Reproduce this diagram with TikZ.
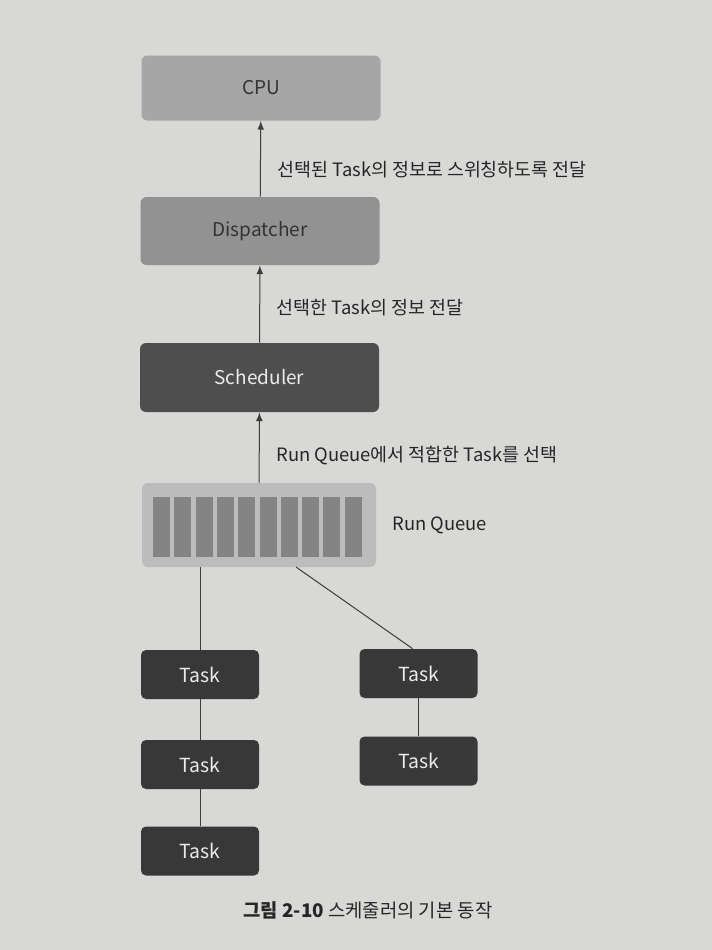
\documentclass[tikz,border=0pt]{standalone}
\usepackage{fontspec}
\setmainfont{Noto Sans CJK KR}
\usepackage{tikz}
\usetikzlibrary{arrows}

\definecolor{paper}{RGB}{216,216,214}
\definecolor{cpugray}{RGB}{166,166,166}
\definecolor{dispgray}{RGB}{146,146,146}
\definecolor{schedgray}{RGB}{78,78,78}
\definecolor{taskgray}{RGB}{56,56,56}
\definecolor{queuegray}{RGB}{188,188,188}
\definecolor{slotgray}{RGB}{132,132,132}
\definecolor{linegray}{RGB}{60,60,60}

\begin{document}
\begin{tikzpicture}[x=0.5pt, y=-0.5pt,
        box/.style={rounded corners=3pt, minimum width=119.5pt, minimum height=34pt, font=\fontsize{9.5}{11}\selectfont},
        taskbox/.style={rounded corners=2.5pt, fill=taskgray, text=white!92!black, minimum width=59pt, minimum height=24.5pt, font=\fontsize{9.7}{11}\selectfont},
        slot/.style={fill=slotgray, draw=none},
        lbl/.style={font=\fontsize{9.2}{10}\selectfont, text=black!85},
        conn/.style={draw=linegray, line width=0.5pt}]
        \fill[paper] (0,0) rectangle (712,950);
        \useasboundingbox (0,0) rectangle (712,950);

        \draw (261, 88) node[box, fill=cpugray, text=black!80, minimum height=32.5pt] (cpu) {CPU};
        \draw (260, 231) node[box, fill=dispgray, text=black!80] (disp) {Dispatcher};
        \draw (259.5, 377.5) node[box, fill=schedgray, text=white!92!black, minimum height=34.5pt] (sched) {Scheduler};
        \draw (259, 525) node[box, fill=queuegray, minimum width=117pt, minimum height=42pt] (rq) {};
        \draw (392, 525) node[right, inner sep=0pt, lbl] (rqname) {Run Queue};

        % queue slots
        \foreach \i in {0,...,9}
            \fill[slot] (153+21.3*\i, 497) rectangle (170+21.3*\i, 557);

        \draw (200, 674.5) node[taskbox] (t1) {Task};
        \draw (200, 764.5) node[taskbox] (t2) {Task};
        \draw (200, 851) node[taskbox] (t3) {Task};
        \draw (418.5, 673.5) node[taskbox] (t4) {Task};
        \draw (418.5, 761) node[taskbox] (t5) {Task};

        \draw[conn, -latex] (disp) -- node[right=5pt, pos=0.35, lbl] {선택된 Task의 정보로 스위칭하도록 전달} (cpu);
        \draw[conn, -latex] (sched) -- node[right=5pt, pos=0.45, lbl] {선택한 Task의 정보 전달} (disp);
        \draw[conn, -latex] (rq) -- node[right=5pt, pos=0.38, lbl] {Run Queue에서 적합한 Task를 선택} (sched);

        \coordinate (rqout) at (296, 567);
        \draw[conn] (rq.south -| t1.north) -- (t1.north);
        \draw[conn] (t1) -- (t2);
        \draw[conn] (t2) -- (t3);
        \draw[conn] (rqout) -- ([xshift=-3pt]t4.north);
        \draw[conn] (t4) -- (t5);

        \draw (368, 910) node[lbl, font=\fontsize{9.4}{11}\selectfont] (caption) {\textbf{그림 2-10} 스케줄러의 기본 동작};
    \end{tikzpicture}
\end{document}
